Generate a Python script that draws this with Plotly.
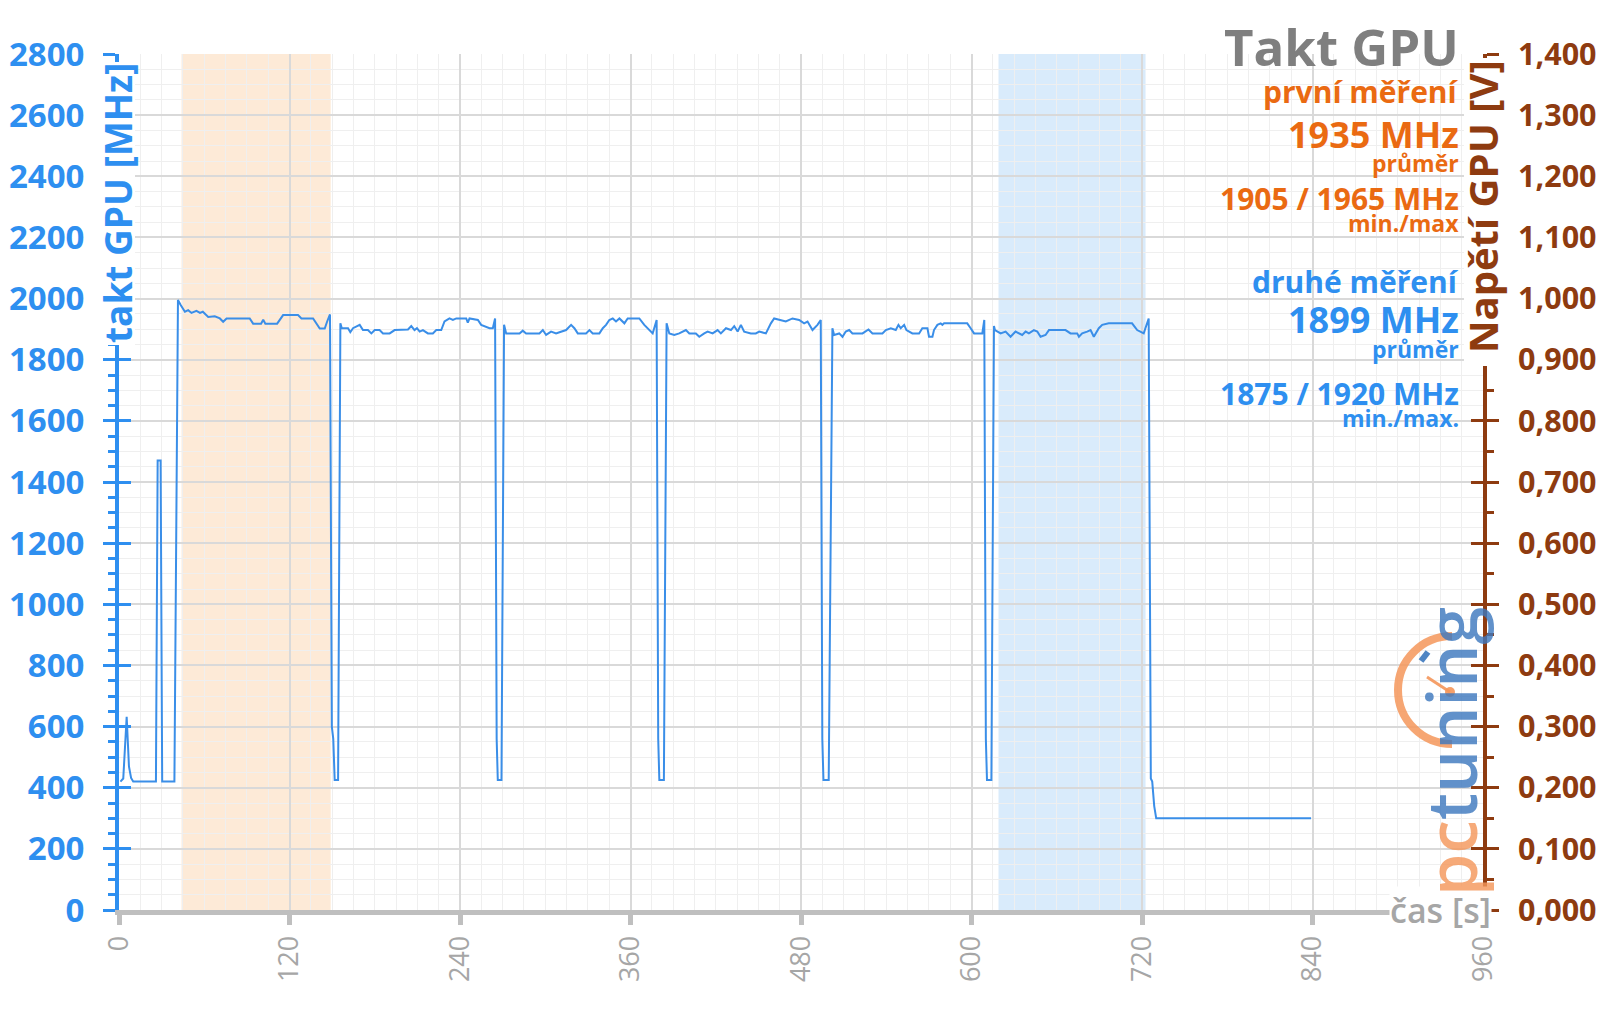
import plotly.graph_objects as go

# ---------------- data ----------------
time_s = [1, 3, 5.4, 7, 8.5, 10, 26, 27.2, 29.3, 30.4, 39, 41.5,
          43.4, 46.4, 48.7, 51, 54.5, 57, 59, 62.8, 67.4, 71, 73.3, 75.7, 92, 94.4, 100, 101.5, 103,
          111.3, 115.5, 126, 128.4, 136.6, 141.3, 144.8, 146.5, 148.5,
          149.8, 150.8, 151.8, 154.2, 155.8, 156.8,
          157.7, 161.2, 162.8, 164.7, 169.4, 171.7, 175.2, 177.6, 180, 183.4, 185.8, 190.5, 194,
          203.4, 205.7, 208, 209.7, 211.6, 213.9, 217.4, 220.9, 223.3, 226.8, 229.1, 232.6, 235,
          237.4, 244.4, 245.5, 246.7, 252.6, 254.9, 260.8, 263.1, 264.7,
          265.8, 266.6, 269.2, 271.0, 272.5,
          281.9, 284.2, 286.5, 295.9, 298.3, 300.6, 304.1, 307.6, 310, 314.7,
          318.2, 320.5, 322.9, 328.7, 331.1, 333.4, 338.1, 340.5, 342.8, 345.1, 347.5, 349.8,
          352.2, 355.7, 358, 366.2, 369.7, 373.3, 375.6, 378.4,
          379.5, 380.3, 383.5, 385.4, 387.3,
          390.8, 394.3, 399, 401.4, 406, 408.4, 411.9, 414.3, 417.8, 421.3, 423.6, 427.2, 430.7,
          433, 435.4, 437.7, 440, 444.7, 448.2, 450.6, 455.3, 458.8, 461.1, 465.8, 469.3, 474,
          478.7, 482.2, 484.6, 488.1, 491.6, 493.9,
          495, 495.8, 499.5, 502.1, 503.3,
          506.9, 509.2, 511.5, 513.9, 516.2, 523.3, 527.5, 530.3, 537.3, 539.7, 543.2, 546.7,
          548.6, 550.2, 552.6, 554.2, 558.4, 563.1, 565.4, 569, 570.1, 572.5, 573.6, 576, 578.3,
          579.5, 580.7, 597, 599.4, 601.8, 607.6, 609,
          610.1, 610.9, 614, 615.8, 616.5,
          618.2, 620.5, 624, 627.5, 631, 633.4, 635.7, 638.1, 640.4, 643.9, 646.3, 648.6, 652.1,
          654.5, 666.2, 669.7, 674.4, 675.6, 677.9, 681.4, 683.8, 686.1, 689.6, 692, 696.6, 713,
          716.6, 721.2, 724.7,
          726.2, 727.2, 728.6, 730, 839]

clock_mhz = [420, 430, 632, 470, 432, 420, 420, 1470, 1470, 420, 420, 1995,
             1979, 1957, 1962, 1953, 1960, 1953, 1957, 1940, 1942, 1935, 1924, 1935, 1935, 1918, 1918, 1931, 1918,
             1918, 1946, 1946, 1935, 1935, 1902, 1902, 1925, 1948,
             600, 560, 425, 425, 1919, 1903,
             1903, 1903, 1890, 1903, 1914, 1897, 1897, 1886, 1897, 1897, 1886, 1886, 1897,
             1899, 1910, 1897, 1903, 1892, 1897, 1886, 1886, 1897, 1897, 1925, 1935, 1930,
             1935, 1935, 1921, 1935, 1930, 1914, 1903, 1903, 1935,
             560, 425, 425, 1914, 1886,
             1886, 1895, 1886, 1886, 1897, 1881, 1892, 1886, 1890, 1897,
             1914, 1903, 1886, 1886, 1897, 1886, 1886, 1903, 1914, 1930, 1935, 1925,
             1935, 1919, 1935, 1935, 1914, 1897, 1886, 1930,
             560, 425, 425, 1919, 1886,
             1881, 1886, 1897, 1886, 1886, 1875, 1886, 1892, 1886, 1897, 1886, 1903, 1897,
             1910, 1892, 1914, 1892, 1886, 1886, 1892, 1886, 1919, 1935, 1930, 1925, 1935,
             1930, 1919, 1925, 1897, 1914, 1930,
             560, 425, 425, 1903, 1881,
             1886, 1875, 1892, 1897, 1886, 1886, 1899, 1886, 1886, 1897, 1903, 1897,
             1914, 1903, 1914, 1897, 1886, 1886, 1903, 1903, 1875, 1875, 1897, 1914, 1919,
             1914, 1919, 1919, 1903, 1886, 1886, 1930,
             560, 425, 425, 1910, 1897,
             1892, 1886, 1892, 1875, 1892, 1886, 1881, 1892, 1886, 1897, 1892, 1875, 1881,
             1897, 1897, 1886, 1886, 1875, 1886, 1892, 1897, 1875, 1903, 1914, 1919, 1919,
             1897, 1886, 1935,
             430, 420, 340, 300, 300]

first_window_s = [44, 149]
second_window_s = [619, 722.5]

x_ticks = [0, 120, 240, 360, 480, 600, 720, 840, 960]

title_text = "Takt GPU"
first_label = "první měření"
first_avg = "1935 MHz"
first_minmax = "1905 / 1965 MHz"
second_label = "druhé měření"
second_avg = "1899 MHz"
second_minmax = "1875 / 1920 MHz"

# ---------------- styling ----------------
BLUE = "#2E8FF0"
LINE = "#3A8EE8"
BROWN = "#8E3B10"
ORANGE = "#EA6A12"
GRAY = "#7F7F7F"
FONT = "Open Sans"

W, H = 1600, 1009
ML, MR, MT, MB = 119, 117, 54, 99
PW, PH = W - ML - MR, H - MT - MB


def px(xp, yp):
    """pixel position -> paper coordinates (for decorations only)"""
    return (xp - ML) / PW, (H - MB - yp) / PH


fig = go.Figure()
fig.add_trace(go.Scatter(x=time_s, y=clock_mhz, mode="lines",
                         line=dict(color=LINE, width=2), hoverinfo="skip",
                         showlegend=False))
# empty traces so the extra axes are drawn
for ax in ["y2", "y3", "y4"]:
    fig.add_trace(go.Scatter(x=[None], y=[None], yaxis=ax, showlegend=False,
                             hoverinfo="skip"))

shapes = [
    dict(type="rect", xref="x", yref="paper", x0=first_window_s[0], x1=first_window_s[1],
         y0=0, y1=1, fillcolor="rgba(250,200,150,0.38)", line=dict(width=0), layer="between"),
    dict(type="rect", xref="x", yref="paper", x0=second_window_s[0], x1=second_window_s[1],
         y0=0, y1=1, fillcolor="rgba(150,200,245,0.36)", line=dict(width=0), layer="between"),
]


def mask(x0p, y0p, x1p, y1p):
    a, b = px(x0p, y0p), px(x1p, y1p)
    shapes.append(dict(type="rect", xref="paper", yref="paper", x0=a[0], y0=b[1],
                       x1=b[0], y1=a[1], fillcolor="white", line=dict(width=0),
                       layer="above"))


# white strips behind the rotated axis titles (hide axis line there)
mask(101, 62, 135, 345)
mask(1464, 58, 1503, 366)

# pctuning logo decoration (gauge arc + needle)
cx, cy, r = 1452, 690, 54
k = 0.5523 * r
p = [px(cx, cy - r), px(cx - k, cy - r), px(cx - r, cy - k), px(cx - r, cy),
     px(cx - r, cy + k), px(cx - k, cy + r), px(cx, cy + r)]
path = "M {} {} C {} {}, {} {}, {} {} C {} {}, {} {}, {} {}".format(
    *[v for pt in p for v in pt])
shapes.append(dict(type="path", xref="paper", yref="paper", path=path,
                   line=dict(color="rgba(244,150,90,0.85)", width=8)))
n0, n1 = px(1427, 677), px(1450, 692)
shapes.append(dict(type="line", xref="paper", yref="paper", x0=n0[0], y0=n0[1],
                   x1=n1[0], y1=n1[1], line=dict(color="rgba(244,150,90,0.9)", width=3)))
d0, d1 = px(1445, 687), px(1455, 697)
shapes.append(dict(type="circle", xref="paper", yref="paper", x0=d0[0], y0=d0[1],
                   x1=d1[0], y1=d1[1], fillcolor="rgba(244,150,90,0.9)", line=dict(width=0)))
b0, b1 = px(1421, 661), px(1428, 652)
shapes.append(dict(type="line", xref="paper", yref="paper", x0=b0[0], y0=b0[1],
                   x1=b1[0], y1=b1[1], line=dict(color="rgba(60,120,190,0.9)", width=6)))

ann = []


def text(t, xp, yp, size, color, xanchor="right", angle=0, bg=None, weight="bold"):
    xx, yy = px(xp, yp)
    d = dict(text=t, xref="paper", yref="paper", x=xx, y=yy, xanchor=xanchor,
             yanchor="middle", showarrow=False, textangle=angle,
             font=dict(family=FONT, size=size, color=color, weight=weight))
    if bg:
        d.update(bgcolor=bg, borderpad=0)
    ann.append(d)


RX = 1461
text(title_text, RX, 46, 51, GRAY)
text(first_label, RX, 92, 30, ORANGE)
text(first_avg, RX, 135, 36, ORANGE)
text("průměr", RX, 163, 23, ORANGE)
text(first_minmax, RX, 198, 30, ORANGE)
text("min./max", RX, 223, 23, ORANGE)
text(second_label, RX, 281, 30, BLUE)
text(second_avg, RX, 320, 36, BLUE)
text("průměr", RX, 349, 23, BLUE)
text(second_minmax, RX, 393, 30, BLUE)
text("min./max.", RX, 418, 23, BLUE)

text("takt GPU [MHz]", 117, 203, 37, BLUE, xanchor="center", angle=-90)
text("Napětí GPU [V]", 1483, 207, 40, BROWN, xanchor="center", angle=-90)
text("čas [s]", 1492, 910, 34, "#A6A6A6", xanchor="right", bg="white", weight=600)
text('<span style="color:rgba(244,150,90,0.9)">pc</span>'
     '<span style="color:rgba(60,120,190,0.9)">tuning</span>',
     1450, 752, 68, "rgba(60,120,190,0.9)", xanchor="center", angle=-90, weight=600)

fig.update_layout(
    width=W, height=H,
    margin=dict(l=ML, r=MR, t=MT, b=MB, pad=0, autoexpand=False),
    plot_bgcolor="white", paper_bgcolor="white",
    separators=",.",
    showlegend=False,
    shapes=shapes, annotations=ann,
    xaxis=dict(range=[0, 960], tickvals=x_ticks, showgrid=True, gridcolor="#D9D9D9",
               gridwidth=1.5,
               minor=dict(dtick=15, tick0=0, showgrid=True, gridcolor="#EFEFEF", gridwidth=1),
               showline=True, linecolor="#BFBFBF", linewidth=5,
               ticks="outside", ticklen=10, tickwidth=5, tickcolor="#BFBFBF",
               tickangle=-90, tickfont=dict(family=FONT, size=27, color="#A6A6A6"),
               zeroline=False, automargin=False),
    yaxis=dict(range=[0, 2800], dtick=200, tick0=0, showgrid=True, gridcolor="#D9D9D9",
               gridwidth=1.5,
               minor=dict(dtick=50, tick0=0, showgrid=True, gridcolor="#EFEFEF", gridwidth=1,
                          ticks="outside", ticklen=7, tickwidth=3, tickcolor=BLUE),
               ticks="outside", ticklen=12, tickwidth=3, tickcolor=BLUE,
               showline=True, linecolor=BLUE, linewidth=4,
               tickfont=dict(family=FONT, size=33, color=BLUE, weight="bold"),
               ticklabelstandoff=12, zeroline=False, automargin=False),
    yaxis2=dict(range=[0, 1.4], dtick=0.1, tick0=0, overlaying="y", side="right",
                tickformat=".3f", showgrid=False, zeroline=False,
                ticks="outside", ticklen=12, tickwidth=3, tickcolor=BROWN,
                minor=dict(dtick=0.05, tick0=0, ticks="outside", ticklen=7, tickwidth=3,
                           tickcolor=BROWN, showgrid=False),
                showline=True, linecolor=BROWN, linewidth=4,
                tickfont=dict(family=FONT, size=30.5, color=BROWN, weight="bold"),
                ticklabelstandoff=13, automargin=False),
    yaxis3=dict(range=[0, 2800], dtick=200, tick0=0, overlaying="y", side="left",
                ticks="inside", ticklen=12, tickwidth=3, tickcolor=BLUE,
                showticklabels=False, showgrid=False, zeroline=False, showline=False,
                automargin=False),
    yaxis4=dict(range=[0, 1.4], dtick=0.1, tick0=0, overlaying="y", side="right",
                ticks="inside", ticklen=12, tickwidth=3, tickcolor=BROWN,
                showticklabels=False, showgrid=False, zeroline=False, showline=False,
                automargin=False),
)

fig.write_html("out.html",
               config={"displayModeBar": False},
               post_script="document.body.style.margin='0px';"
                           "document.body.style.overflow='hidden';")
